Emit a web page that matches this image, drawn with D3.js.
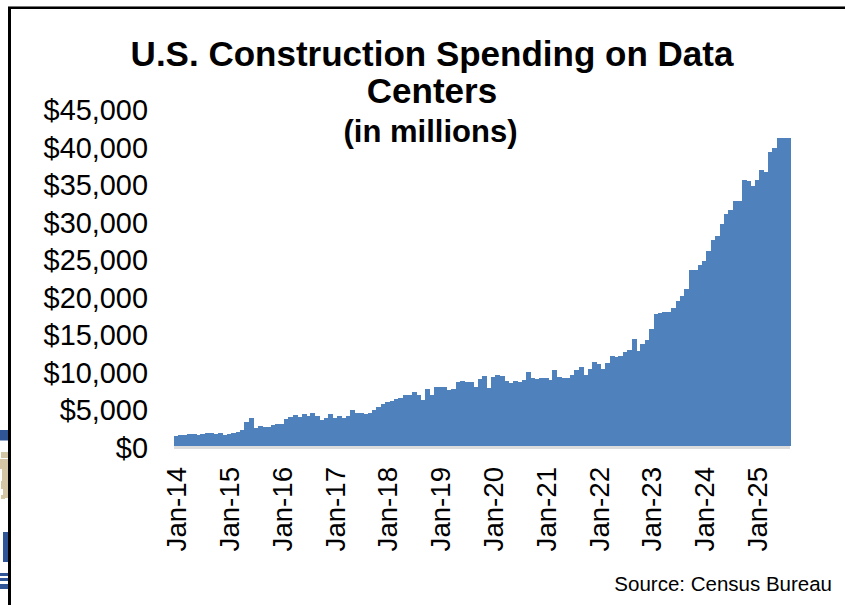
<!DOCTYPE html>
<html>
<head>
<meta charset="utf-8">
<script src="https://cdn.jsdelivr.net/npm/d3@7"></script>
<style>
html,body{margin:0;padding:0;background:#fff;overflow:hidden}
svg{display:block}
text{font-family:"Liberation Sans",Arial,sans-serif;fill:#000}
</style>
</head>
<body>
<svg id="chart" width="845" height="605"></svg>
<script>
const titleLines = ["U.S. Construction Spending on Data", "Centers"];
const subtitle = "(in millions)";
const sourceNote = "Source: Census Bureau";
const yTicks = [0,5000,10000,15000,20000,25000,30000,35000,40000,45000];
const xTickYears = ["14","15","16","17","18","19","20","21","22","23","24","25"];
const monthNames = ["Jan","Feb","Mar","Apr","May","Jun","Jul","Aug","Sep","Oct","Nov","Dec"];
const spending = [
1380,1510,1465,1555,1555,1510,1555,1690,1690,1600,1690,1465,
1640,1690,1910,2090,3150,3690,2440,2620,2575,2530,2750,2890,
2930,3550,3860,4170,3900,4300,4000,4350,3950,3460,3690,4220,
3770,3950,3770,4000,4800,4350,4440,4220,4440,4750,5240,5550,
5860,5990,6260,6350,6750,6840,7240,6790,6080,7640,6840,7860,
7900,7810,7460,7640,8520,8660,8570,8570,7860,8920,9280,7680,
9190,9460,9280,8700,8440,8700,8520,8840,9810,9100,8970,9010,
9010,8790,10080,9190,9060,9060,9480,10170,10500,9480,10260,11140,
10880,10300,11100,11990,11850,11940,12480,12740,14210,12610,13540,14070,
15560,17580,17800,17890,17830,18360,19270,19980,20870,23530,23440,24150,
24640,26020,27480,28060,29660,30900,31440,32630,32630,35520,35300,34680,
35430,36760,36590,39250,39690,41030,41030,41030
];
const months = spending.map((_, i) => monthNames[i % 12] + "-" + xTickYears[Math.floor(i / 12)] );
const xTickLabels = months.filter((_, i) => i % 12 === 0);

const svg = d3.select("#chart");

// background remnants at the left edge
const bgBlue = [[0,430,8,10.5],[3,532,5,30],[0,573,8,3],[0,578,8,3],[0,584,8,5]];
const bgTan = [[1,452,7,6],[0,459,8,10],[2,469,6,12],[1,481,7,8],[3,489,5,9],[1,495,4,4]];
svg.append("g").selectAll("rect").data(bgTan).join("rect")
  .attr("x",d=>d[0]).attr("y",d=>d[1]).attr("width",d=>d[2]).attr("height",d=>d[3]).attr("fill","#d4c6a4");
svg.append("g").selectAll("rect").data(bgBlue).join("rect")
  .attr("x",d=>d[0]).attr("y",d=>d[1]).attr("width",d=>d[2]).attr("height",d=>d[3]).attr("fill","#2f5597");

// panel frame
svg.append("rect").attr("x",8).attr("y",6).attr("width",845).attr("height",640).attr("fill","#fff");
svg.append("rect").attr("x",8).attr("y",6).attr("width",837).attr("height",1).attr("fill","#777");
svg.append("rect").attr("x",8).attr("y",7).attr("width",837).attr("height",2).attr("fill","#000");
svg.append("rect").attr("x",8).attr("y",7).attr("width",3).attr("height",598).attr("fill","#000");

const x = d3.scaleBand().domain(months).range([174,790]).padding(0);
const y = d3.scaleLinear().domain([0,45000]).range([446,108.5]);

svg.append("g").attr("shape-rendering","crispEdges").selectAll("rect").data(spending).join("rect")
  .attr("x",(d,i)=>x(months[i]))
  .attr("y",d=>y(d))
  .attr("width",x.bandwidth()+0.6)
  .attr("height",d=>y(0)-y(d))
  .attr("fill","#4f81bd");

// category axis
svg.append("rect").attr("x",x.range()[0]).attr("y",y(0)).attr("width",x.range()[1]-x.range()[0]).attr("height",3).attr("fill","#dcdcdc");

const yAxis = svg.append("g").attr("transform","translate(148,0)")
  .call(d3.axisLeft(y).tickValues(yTicks).tickSize(0).tickPadding(0).tickFormat(d=>"$"+d3.format(",")(d)));
yAxis.select(".domain").remove();
yAxis.selectAll("text").attr("font-size",28.9).attr("dy",null).attr("y",11).style("font-family",'"Liberation Sans",Arial,sans-serif').attr("fill","#000");

const xAxis = svg.append("g").attr("transform","translate(0,467)")
  .call(d3.axisBottom(x).tickValues(xTickLabels).tickSize(0).tickPadding(0));
xAxis.select(".domain").remove();
xAxis.selectAll("text").attr("font-size",27.6).attr("dy",null).attr("y",0).attr("x",0)
  .attr("text-anchor","end").attr("dominant-baseline",null)
  .attr("transform","translate(10,0) rotate(-90)").style("font-family",'"Liberation Sans",Arial,sans-serif').attr("fill","#000");

// titles
svg.append("text").attr("x",432).attr("y",66).attr("text-anchor","middle").attr("font-size",35).attr("font-weight","bold").text(titleLines[0]);
svg.append("text").attr("x",432).attr("y",103).attr("text-anchor","middle").attr("font-size",35).attr("font-weight","bold").text(titleLines[1]);
svg.append("text").attr("x",430.5).attr("y",142).attr("text-anchor","middle").attr("font-size",31).attr("font-weight","bold").text(subtitle);
svg.append("text").attr("x",832).attr("y",591).attr("text-anchor","end").attr("font-size",20.5).text(sourceNote);
</script>
</body>
</html>
